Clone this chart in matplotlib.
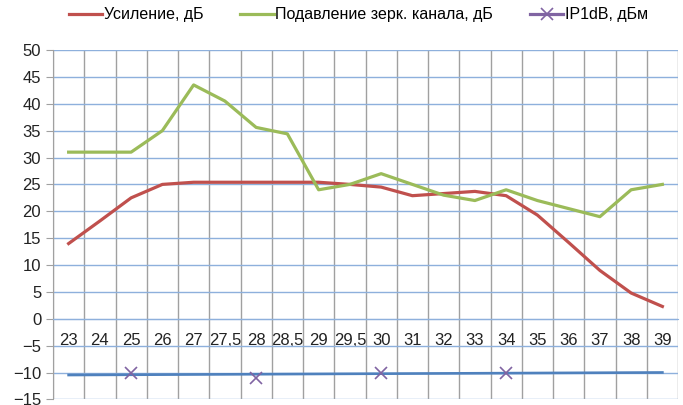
import matplotlib
matplotlib.use("Agg")
import matplotlib.pyplot as plt
import numpy as np

categories = ["23", "24", "25", "26", "27", "27,5", "28", "28,5", "29", "29,5",
              "30", "31", "32", "33", "34", "35", "36", "37", "38", "39"]
gain = [14, 18.2, 22.5, 25, 25.4, 25.4, 25.4, 25.4, 25.4, 25,
        24.5, 22.9, 23.3, 23.7, 22.9, 19.3, 14.2, 9, 4.8, 2.3]
image_rej = [31, 31, 31, 35, 43.5, 40.5, 35.6, 34.4, 24, 25,
             27, 25, 23, 22, 24, 22, 20.5, 19, 24, 25]
ip1db = [np.nan, np.nan, -10, np.nan, np.nan, np.nan, -11, np.nan, np.nan, np.nan,
         -10, np.nan, np.nan, np.nan, -10, np.nan, np.nan, np.nan, np.nan, np.nan]

plt.rcParams['font.family'] = ['Liberation Sans Narrow', 'Liberation Sans', 'DejaVu Sans']
plt.rcParams['font.size'] = 12

fig = plt.figure(figsize=(6.83, 4.05), dpi=100)
ax = fig.add_axes([0.0776, 0.0136, 0.9151, 0.863])

x = np.arange(len(categories))
ip = np.array(ip1db, dtype=float)

# linear trend of IP1dB (Excel trendline)
ok = ~np.isnan(ip)
k, b = np.polyfit(x[ok] + 1, ip[ok], 1)
ax.plot(x, k * (x + 1) + b, color='#4F81BD', lw=1.9, zorder=3)

l1, = ax.plot(x, gain, color='#C0504D', lw=2.3, label='Усиление, дБ', zorder=4)
l2, = ax.plot(x, image_rej, color='#9BBB59', lw=2.3, label='Подавление зерк. канала, дБ', zorder=4)
l3, = ax.plot(x, ip, color='#8064A2', lw=2.3, marker='x', ms=9, mew=1.2,
              label='IP1dB, дБм', zorder=5)

ax.set_xlim(-0.5, len(categories) - 0.5)
ax.set_ylim(-15, 50)
ax.set_yticks(np.arange(-15, 51, 5))
ax.set_xticks(x)
ax.set_xticklabels(categories)
ax.set_xticks(np.arange(-0.5, len(categories), 1), minor=True)

ax.grid(axis='y', color='#8EB0DC', lw=1.0, zorder=1)
ax.grid(axis='x', which='minor', color='#A0A0A0', lw=1.0, zorder=1)
ax.grid(axis='x', which='major', visible=False)

ax.spines['bottom'].set_position(('data', 0))
ax.spines['bottom'].set_color('#8EB0DC')
ax.spines['top'].set_visible(False)
ax.spines['right'].set_visible(False)
ax.spines['left'].set_color('#A0A0A0')

ax.tick_params(axis='x', which='both', length=0, pad=10, labelsize=12, colors='#222222')
ax.tick_params(axis='y', length=5, color='#A0A0A0', labelsize=12, colors='#222222')
for lab in ax.get_yticklabels():
    lab.set_color('#222222')

fig.legend(handles=[l1, l2, l3], loc='center', bbox_to_anchor=(0.525, 0.963), ncol=3,
           frameon=False, handlelength=2.1, handletextpad=0.1, columnspacing=2.3,
           fontsize=11.5)

fig.savefig('out.png', dpi=100)
